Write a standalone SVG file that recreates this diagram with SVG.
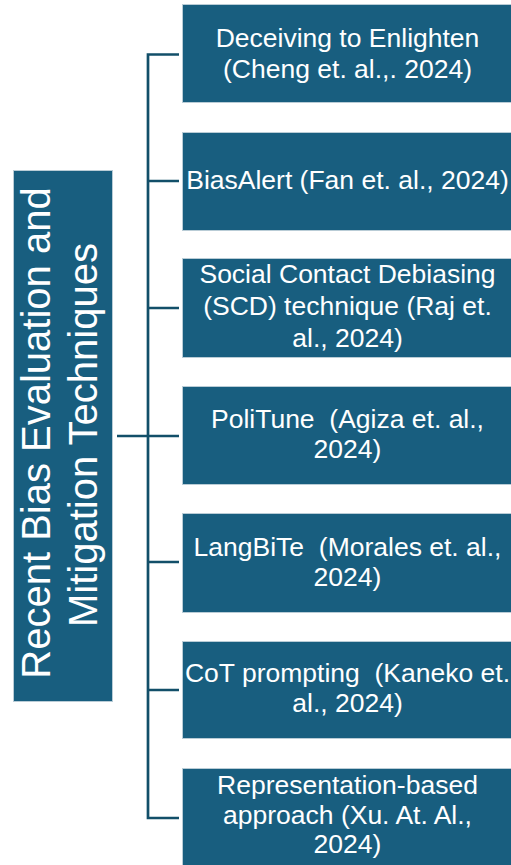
<svg xmlns="http://www.w3.org/2000/svg" width="511" height="865" viewBox="0 0 511 865">
<style>
.box{fill:#185e7f;stroke:#b9ccd6;stroke-width:1}
.t{font-family:"Liberation Sans",Arial,sans-serif;font-size:26.5px;fill:#ffffff;text-anchor:middle;white-space:pre}
.big{font-family:"Liberation Sans",Arial,sans-serif;font-size:40px;fill:#ffffff;text-anchor:middle}
.c{fill:none;stroke:#124f69;stroke-width:2.7}
</style>
<rect width="511" height="865" fill="#ffffff"/>
<g id="connectors">
<path class="c" d="M117 436H148M179 54.5H148V818H179M148 181H179M148 308H179M148 436H179M148 562H179M148 690H179"/>
</g>
<g id="root">
<rect class="box" x="13.5" y="170.5" width="99" height="531"/>
<text class="big" transform="translate(50,433) rotate(-90)">Recent Bias Evaluation and</text>
<text class="big" transform="translate(97,435) rotate(-90)">Mitigation Techniques</text>
</g>
<g id="n1">
<rect class="box" x="182.5" y="4.5" width="330" height="98"/>
<text class="t" x="347.5" y="47">Deceiving to Enlighten</text>
<text class="t" x="347.5" y="78">(Cheng et. al.,. 2024)</text>
</g>
<g id="n2">
<rect class="box" x="182.5" y="132.5" width="330" height="98"/>
<text class="t" x="347.5" y="189">BiasAlert (Fan et. al., 2024)</text>
</g>
<g id="n3">
<rect class="box" x="182.5" y="258.5" width="330" height="99"/>
<text class="t" x="347.5" y="283">Social Contact Debiasing</text>
<text class="t" x="347.5" y="315">(SCD) technique (Raj et.</text>
<text class="t" x="347.5" y="347">al., 2024)</text>
</g>
<g id="n4">
<rect class="box" x="182.5" y="386.5" width="330" height="98"/>
<text class="t" x="347.5" y="428">PoliTune  (Agiza et. al.,</text>
<text class="t" x="347.5" y="458">2024)</text>
</g>
<g id="n5">
<rect class="box" x="182.5" y="513.5" width="330" height="99"/>
<text class="t" x="347.5" y="556">LangBiTe  (Morales et. al.,</text>
<text class="t" x="347.5" y="586">2024)</text>
</g>
<g id="n6">
<rect class="box" x="182.5" y="641.5" width="330" height="97"/>
<text class="t" x="347.5" y="682">CoT prompting  (Kaneko et.</text>
<text class="t" x="347.5" y="712">al., 2024)</text>
</g>
<g id="n7">
<rect class="box" x="182.5" y="768.5" width="330" height="100"/>
<text class="t" x="347.5" y="794">Representation-based</text>
<text class="t" x="347.5" y="824">approach (Xu. At. Al.,</text>
<text class="t" x="347.5" y="853">2024)</text>
</g>
</svg>
